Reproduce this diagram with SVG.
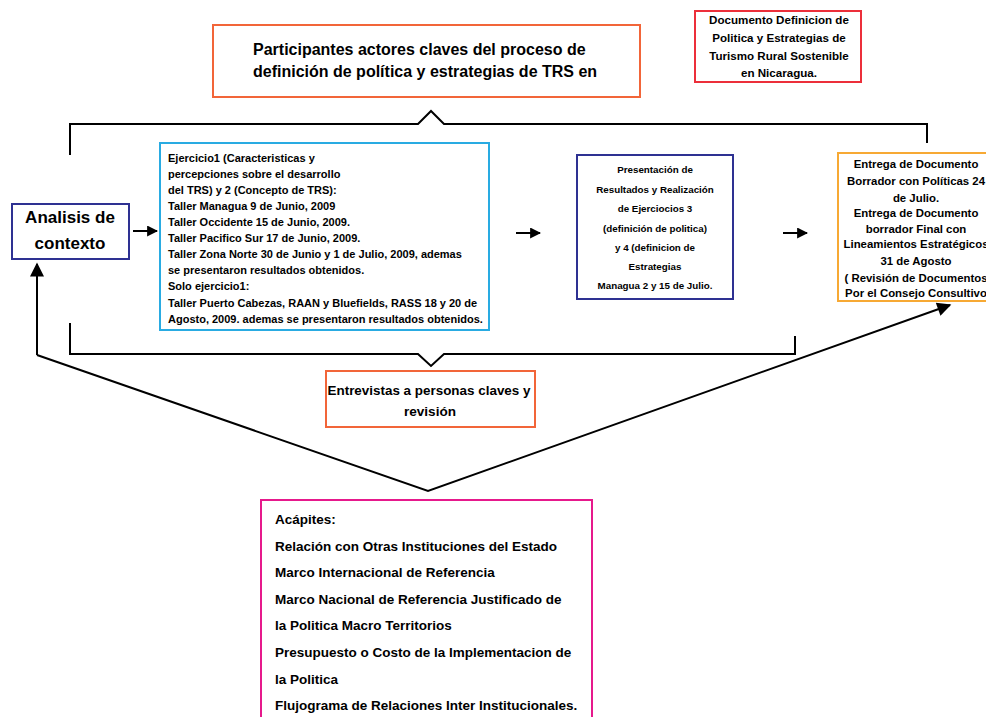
<svg xmlns="http://www.w3.org/2000/svg" width="986" height="717" viewBox="0 0 986 717">
<defs>
<marker id="ah" viewBox="0 0 10 10" refX="9" refY="5" markerWidth="11" markerHeight="11" markerUnits="userSpaceOnUse" orient="auto">
<path d="M0,0 L10,5 L0,10 z" fill="#000"/>
</marker>
<marker id="ahl" viewBox="0 0 10 10" refX="9" refY="5" markerWidth="16" markerHeight="14" markerUnits="userSpaceOnUse" orient="auto">
<path d="M0,0 L10,5 L0,10 z" fill="#000"/>
</marker>
</defs>
<style>
text{font-family:"Liberation Sans",Arial,Helvetica,sans-serif;font-weight:bold;fill:#000}
.box{fill:#fff;stroke-width:2}
.ln{fill:none;stroke:#000;stroke-width:2}
.c{text-anchor:middle}
</style>
<rect width="986" height="717" fill="#fff"/>
<g id="connectors">
<path class="ln" d="M70,155 L70,124 L418,124 L431,111 L444,124 L927,124 L927,143"/>
<path class="ln" d="M70,323 L70,354 L418,354 L431,366 L444,354 L795,354 L795,336"/>
<path class="ln" d="M37,355 L37,264" marker-end="url(#ahl)"/>
<path class="ln" d="M37,355 L428,491 L950,305" marker-end="url(#ahl)"/>
<path class="ln" d="M133,231 L157,231" marker-end="url(#ah)"/>
<path class="ln" d="M516,233 L540,233" marker-end="url(#ah)"/>
<path class="ln" d="M783,233 L807,233" marker-end="url(#ah)"/>
</g>
<g id="participantes">
<rect class="box" x="213" y="25" width="427" height="72" stroke="#F26539"/>
<text x="253" y="55" font-size="16">Participantes actores claves del proceso de</text>
<text x="253" y="77" font-size="16">definición de política y estrategias de TRS en</text>
</g>
<g id="documento">
<rect class="box" x="695" y="11" width="166" height="71" stroke="#EC2F3A"/>
<g font-size="11.6">
<text class="c" x="779" y="24">Documento Definicion de</text>
<text class="c" x="779" y="42">Politica y Estrategias de</text>
<text class="c" x="779" y="60">Turismo Rural Sostenible</text>
<text class="c" x="779" y="77">en Nicaragua.</text>
</g>
</g>
<g id="analisis">
<rect class="box" x="12" y="204" width="117" height="55" stroke="#2E3192"/>
<text class="c" x="70" y="223" font-size="17">Analisis de</text>
<text class="c" x="70" y="249" font-size="17">contexto</text>
</g>
<g id="ejercicio">
<rect class="box" x="160" y="143" width="329" height="187" stroke="#29ABE2"/>
<g font-size="11">
<text x="168" y="162">Ejercicio1 (Caracteristicas y</text>
<text x="168" y="178">percepciones sobre el desarrollo</text>
<text x="168" y="194">del TRS) y 2 (Concepto de TRS):</text>
<text x="168" y="210">Taller Managua 9 de Junio, 2009</text>
<text x="168" y="226">Taller Occidente 15 de Junio, 2009.</text>
<text x="168" y="242">Taller Pacifico Sur 17 de Junio, 2009.</text>
<text x="168" y="258">Taller Zona Norte 30 de Junio y 1 de Julio, 2009, ademas</text>
<text x="168" y="274">se presentaron resultados obtenidos.</text>
<text x="168" y="290">Solo ejercicio1:</text>
<text x="168" y="307">Taller Puerto Cabezas, RAAN y Bluefields, RASS 18 y 20 de</text>
<text x="168" y="323">Agosto, 2009. ademas se presentaron resultados obtenidos.</text>
</g>
</g>
<g id="presentacion">
<rect class="box" x="577" y="155" width="156" height="144" stroke="#2E3192"/>
<g font-size="9.8">
<text class="c" x="655" y="173">Presentación de</text>
<text class="c" x="655" y="193">Resultados y Realización</text>
<text class="c" x="655" y="212">de Ejerciocios 3</text>
<text class="c" x="655" y="232">(definición de politica)</text>
<text class="c" x="655" y="251">y 4 (definicion de</text>
<text class="c" x="655" y="270">Estrategias</text>
<text class="c" x="655" y="289">Managua 2 y 15 de Julio.</text>
</g>
</g>
<g id="entrega">
<rect class="box" x="838" y="153" width="160" height="148" stroke="#F7A934"/>
<g font-size="11.4">
<text class="c" x="916" y="168">Entrega de Documento</text>
<text class="c" x="916" y="185">Borrador con Políticas 24</text>
<text class="c" x="916" y="202">de Julio.</text>
<text class="c" x="916" y="217">Entrega de Documento</text>
<text class="c" x="916" y="233">borrador Final con</text>
<text class="c" x="916" y="248">Lineamientos Estratégicos</text>
<text class="c" x="916" y="265">31 de Agosto</text>
<text class="c" x="916" y="282">( Revisión de Documentos</text>
<text class="c" x="916" y="297">Por el Consejo Consultivo</text>
</g>
</g>
<g id="entrevistas">
<rect class="box" x="326" y="371" width="209" height="56" stroke="#F26539"/>
<text class="c" x="429" y="395" font-size="13.5" textLength="203" lengthAdjust="spacingAndGlyphs">Entrevistas a personas claves y</text>
<text class="c" x="430" y="416" font-size="13.5" textLength="52" lengthAdjust="spacingAndGlyphs">revisión</text>
</g>
<g id="acapites">
<rect class="box" x="261" y="500" width="331" height="230" stroke="#E6198C"/>
<g font-size="13.5">
<text x="275" y="524">Acápites:</text>
<text x="275" y="551">Relación con Otras Instituciones del Estado</text>
<text x="275" y="577">Marco Internacional de Referencia</text>
<text x="275" y="604">Marco Nacional de Referencia Justificado de</text>
<text x="275" y="630">la Politica Macro Territorios</text>
<text x="275" y="657">Presupuesto o Costo de la Implementacion de</text>
<text x="275" y="684">la Politica</text>
<text x="275" y="710">Flujograma de Relaciones Inter Institucionales.</text>
</g>
</g>
</svg>
